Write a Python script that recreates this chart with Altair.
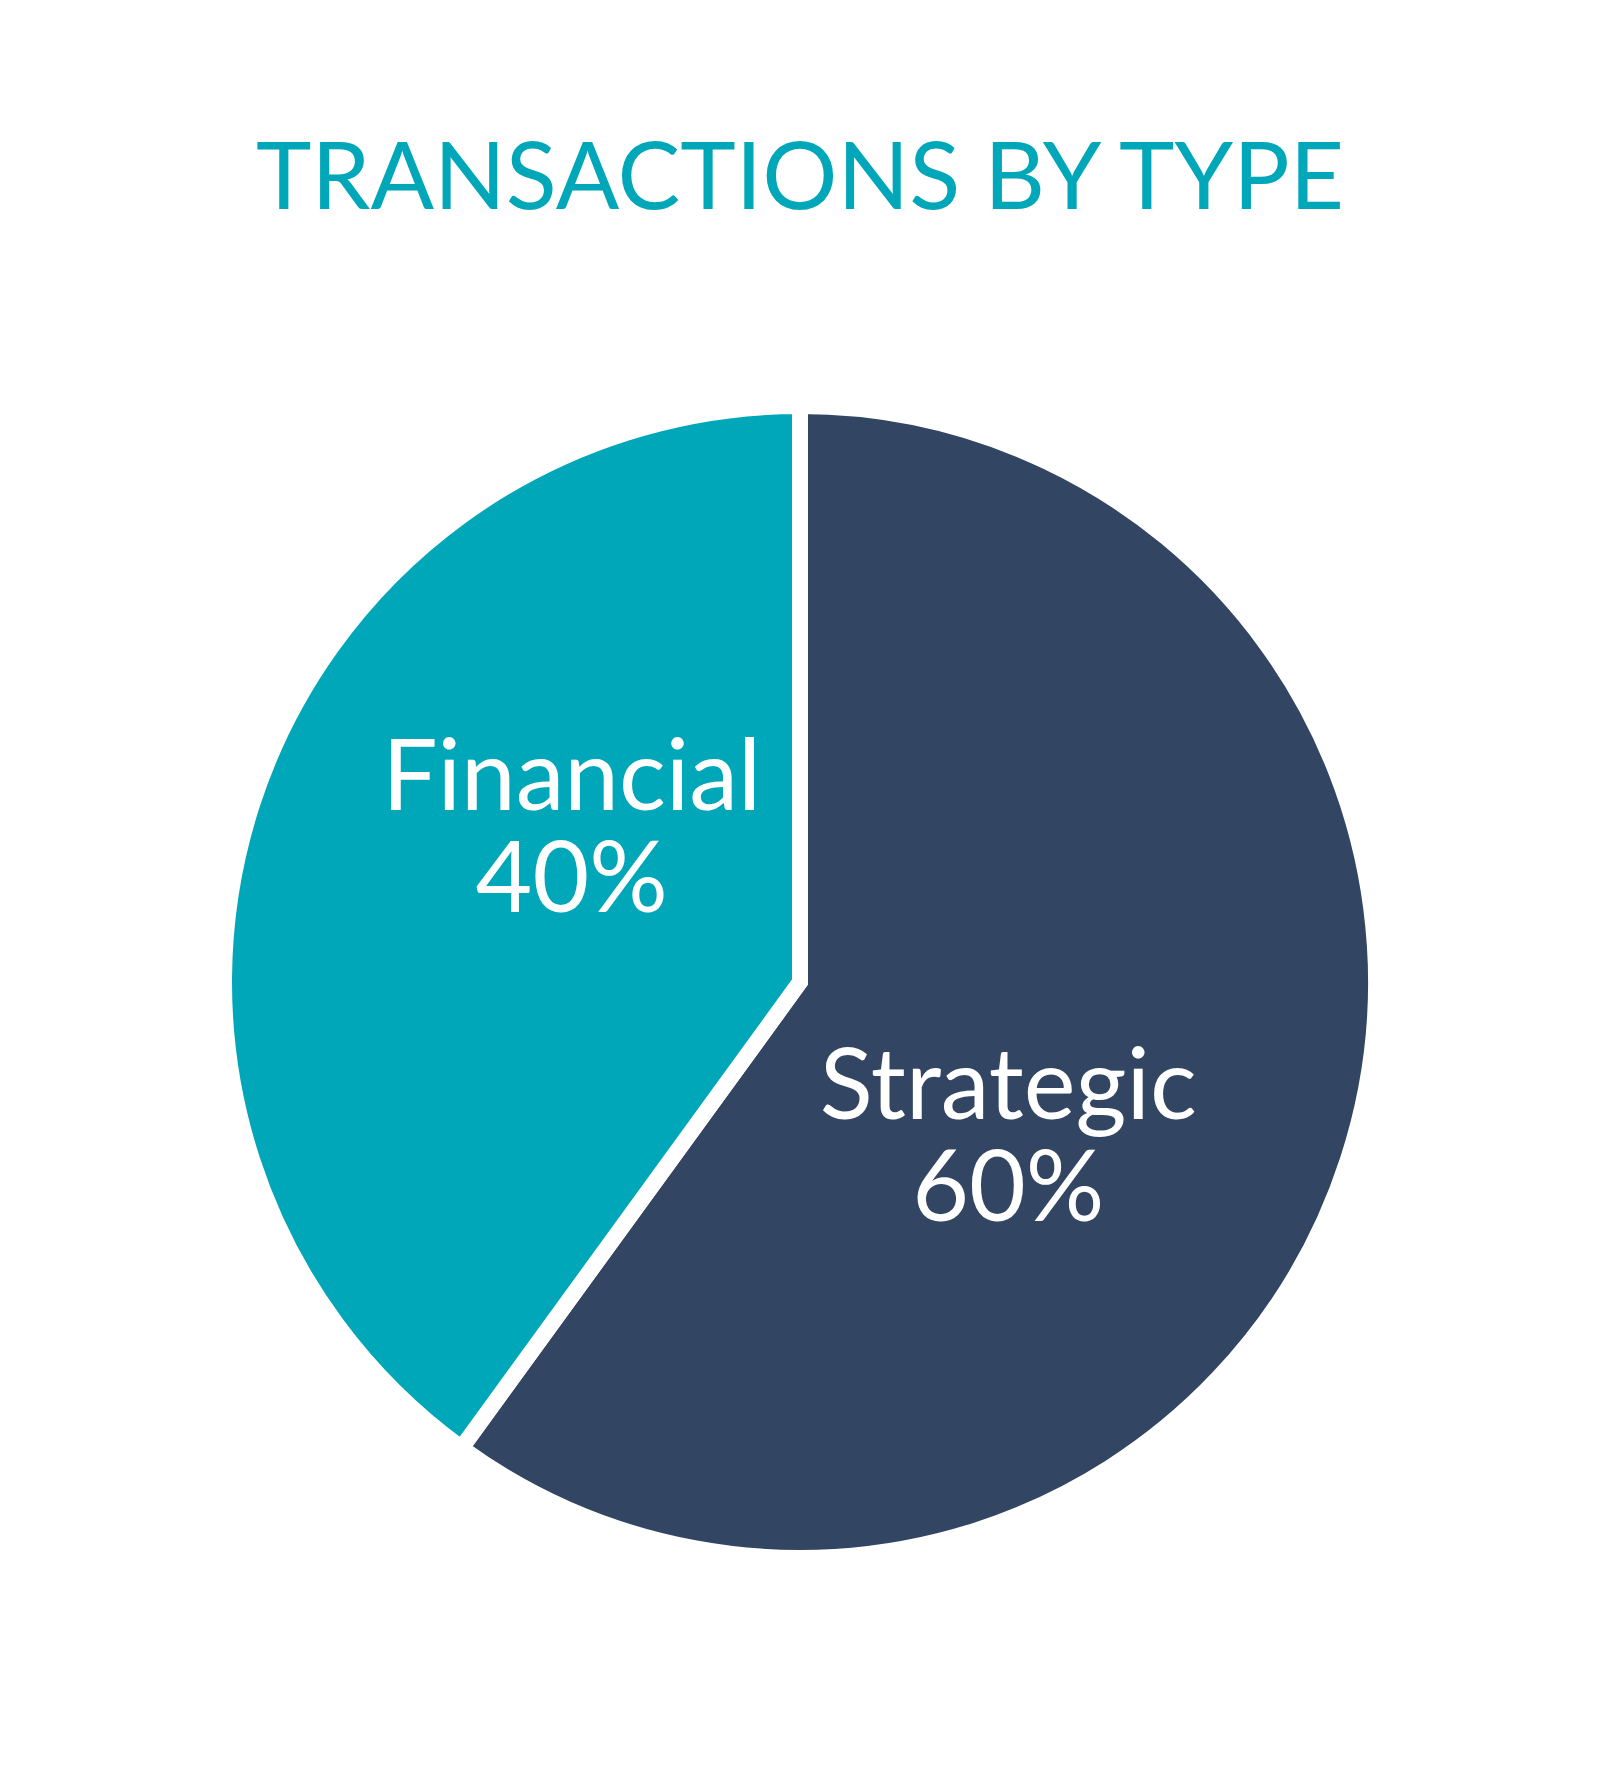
import altair as alt
import pandas as pd

categories = ["Strategic", "Financial"]
shares = [60, 40]
order_idx = [1, 2]
label_lines = [["Strategic", "60%"], ["Financial", "40%"]]
colors = ["#324563", "#00A7B9"]

df = pd.DataFrame({
    "type": categories,
    "share": shares,
    "ord": order_idx,
    "label": label_lines,
})

FONT = "Lato"

pie = alt.Chart(df).mark_arc(outerRadius=576, stroke="white", strokeWidth=16).encode(
    theta=alt.Theta("share:Q", stack=True),
    order=alt.Order("ord:Q"),
    color=alt.Color("type:N", scale=alt.Scale(domain=categories, range=colors), legend=None),
)


def label_layer(cat, dx, dy):
    return alt.Chart(df).transform_window(
        cum="sum(share)", sort=[alt.SortField("ord")]
    ).transform_calculate(
        mid="datum.cum - datum.share / 2"
    ).transform_filter(
        alt.datum.type == cat
    ).mark_text(
        radius=260, font=FONT, fontSize=98, color="white",
        align="center", baseline="alphabetic", lineHeight=102,
        dx=dx, dy=dy,
    ).encode(
        theta=alt.Theta("mid:Q", stack=None),
        text="label",
    )


chart = alt.layer(
    pie,
    label_layer("Financial", 19, -92),
    label_layer("Strategic", -39, 57),
).properties(
    width=1584,
    height=1400,
    padding={"top": 274, "left": 0, "right": 0, "bottom": 0},
    autosize=alt.AutoSizeParams(type="none"),
    title=alt.TitleParams(
        "TRANSACTIONS BY TYPE",
        font=FONT, fontSize=94, fontWeight="normal", color="#00A7B9",
        anchor="middle", offset=53,
    ),
).configure_view(stroke=None)

chart.save("out.html", embed_options={"renderer": "svg", "actions": False})
